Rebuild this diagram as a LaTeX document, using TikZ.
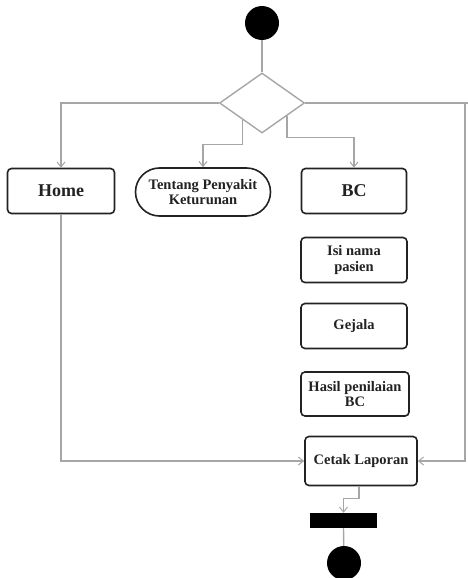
\documentclass[tikz,border=0pt]{standalone}
\usepackage{fontspec}
\setmainfont{Liberation Serif}
\usetikzlibrary{arrows.meta,shapes.geometric,shapes.misc,calc}
\definecolor{lnc}{HTML}{A6A6A6}
\definecolor{bdc}{HTML}{222222}
\begin{document}
\begin{tikzpicture}[x=1pt,y=-1pt,
  act/.style={draw=bdc,line width=1.6pt,rounded corners=4pt,fill=white,inner sep=0pt,align=center,
    font=\bfseries\fontsize{14.5}{15.5}\selectfont,text=bdc},
  big/.style={font=\bfseries\fontsize{18}{19}\selectfont},
  conn/.style={draw=lnc,line width=1.4pt},
  arr/.style={conn,-{Straight Barb[length=5pt,width=8pt,line width=1pt]}},
  dot/.style={circle,fill=black,draw=none,minimum size=34pt,inner sep=0pt}]
\useasboundingbox (0,0) rectangle (468,578);
\node[dot] (start) at (262,23) {};
\node[diamond,draw=lnc,line width=1.4pt,minimum width=85pt,minimum height=60pt,inner sep=0pt,aspect=1.42] (d) at (262,103) {};
\node[act,big,minimum width=107pt,minimum height=45pt] (home) at (61,191) {Home};
\node[rounded rectangle,draw=bdc,line width=1.6pt,fill=white,inner sep=0pt,align=center,
  font=\bfseries\fontsize{14.5}{15.5}\selectfont,text=bdc,minimum width=135pt,minimum height=48pt] (tent) at (203,192) {Tentang Penyakit\\Keturunan};
\node[act,big,minimum width=105pt,minimum height=45pt] (bc) at (354,191) {BC};
\node[act,minimum width=106pt,minimum height=45pt] (isi) at (354,260) {Isi nama\\pasien};
\node[act,minimum width=106pt,minimum height=45pt] (gej) at (354,326) {Gejala};
\node[act,minimum width=108pt,minimum height=44pt] (has) at (355,394) {Hasil penilaian\\BC};
\node[act,minimum width=112pt,minimum height=49pt] (cetak) at (361,461) {Cetak Laporan};
\node[fill=black,minimum width=67pt,minimum height=15pt,inner sep=0pt] (bar) at (343.5,520.5) {};
\node[dot] (end) at (344,563) {};
\coordinate (dl) at ($(d.west)!0.55!(d.south)$);
\coordinate (dr) at ($(d.east)!0.42!(d.south)$);
\coordinate (rc) at (465,461);
\draw[conn] (start) -- (d.north);
\draw[arr] (d.west) -| (home.north);
\draw[arr] (dl) -- ++(0,24.6) -| (tent.north);
\draw[arr] (dr) -- ++(0,21.4) -| (bc.north);
\draw[conn] (d.east) -- (468,103);
\draw[arr] (465,103) -- (rc) -- (cetak.east);
\draw[arr] (home.south) |- (cetak.west);
\draw[arr] ([xshift=-2pt]cetak.south) -- ++(0,12) -| (bar.north);
\draw[conn] (bar.south) -- (end);
\end{tikzpicture}
\end{document}
